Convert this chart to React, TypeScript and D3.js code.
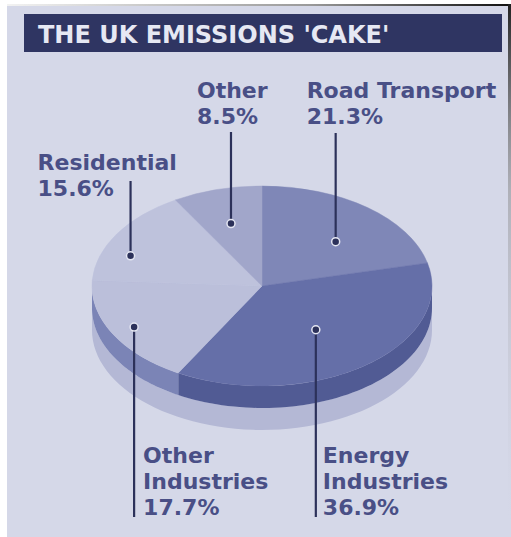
import React from "react";
import * as d3 from "d3";

// ---- data ----
const categories = ["Road Transport", "Energy Industries", "Other Industries", "Residential", "Other"];
const values = [21.3, 36.9, 17.7, 15.6, 8.5];
const labelLines = [["Road Transport"], ["Energy", "Industries"], ["Other", "Industries"], ["Residential"], ["Other"]];
const title = "THE UK EMISSIONS 'CAKE'";

// ---- styles / layout ----
const W = 511, H = 537;
const faceColors = ["#7f87b7", "#656fa8", "#bbbfda", "#bec2dc", "#a1a6ca"];
const sideColors = ["#6a73a8", "#515b94", "#7b84b6", "#9ea3c9", "#8d93bf"];
const labelLayout = [
  { frac: 0.62, off: 6, textX: -29, textY: 98, lineEnd: 133 },
  { frac: 0.54, off: 1, textX: 7, textY: 463, lineEnd: 517 },
  { frac: 0.857, off: 0, textX: 9, textY: 463, lineEnd: 517 },
  { frac: 0.83, off: -10, textX: -93, textY: 170, lineEnd: 181 },
  { frac: 0.65, off: -1, textX: -34, textY: 98, lineEnd: 132 },
];

const cx = 262, cy = 286, rx = 170, ry = 100, sideH = 22, baseH = 22;

function pt(a: number, dy = 0): [number, number] {
  return [cx + rx * Math.sin(a), cy - ry * Math.cos(a) + dy];
}

function bandPath(a0: number, a1: number, dTop: number, dBot: number): string | null {
  const s = Math.max(a0, Math.PI / 2);
  const e = Math.min(a1, (3 * Math.PI) / 2);
  if (e <= s) return null;
  const n = 60;
  const top: [number, number][] = [];
  const bot: [number, number][] = [];
  for (let i = 0; i <= n; i++) {
    const a = s + ((e - s) * i) / n;
    top.push(pt(a, dTop));
    bot.push(pt(a, dBot));
  }
  const pts = top.concat(bot.reverse());
  return d3.line()(pts) + "Z";
}

export default function App() {
  const pie = d3.pie<number>().sort(null).startAngle(0).endAngle(2 * Math.PI)(values);
  const arc = d3.arc<d3.PieArcDatum<number>>().innerRadius(0).outerRadius(rx);
  const font = "'DejaVu Sans', Verdana, sans-serif";
  const labelColor = "#494f86";
  const lineColor = "#2c315a";
  const base = bandPath(0, 2 * Math.PI, sideH, sideH + baseH);

  return (
    <svg width={W} height={H} style={{ position: "absolute", left: 0, top: 0 }} xmlns="http://www.w3.org/2000/svg">
      <defs>
        <linearGradient id="topline" x1="0" x2="1" y1="0" y2="0">
          <stop offset="0" stopColor="#f2f2f2" />
          <stop offset="0.6" stopColor="#9a9a9a" />
          <stop offset="1" stopColor="#111" />
        </linearGradient>
        <linearGradient id="rightline" x1="0" x2="0" y1="0" y2="1">
          <stop offset="0" stopColor="#222" />
          <stop offset="0.35" stopColor="#888" stopOpacity="0.5" />
          <stop offset="1" stopColor="#d5d8e8" stopOpacity="0" />
        </linearGradient>
      </defs>
      <rect x={0} y={0} width={W} height={H} fill="#ffffff" />
      <rect x={7} y={6} width={W - 7} height={H - 6} fill="#d5d8e8" />
      <rect x={7} y={4} width={W - 7} height={2} fill="url(#topline)" />
      <rect x={508} y={4} width={3} height={H - 4} fill="url(#rightline)" />

      {/* title bar */}
      <rect x={24} y={14} width={478} height={38} fill="#2f3562" />
      <text x={38} y={43} fontFamily={font} fontWeight="bold" fontSize={24} fill="#e6e8f3">{title}</text>

      {/* base plate */}
      {base && <path d={base} fill="#b4b8d5" />}
      {/* sides */}
      {pie.map((p, i) => {
        const d = bandPath(p.startAngle, p.endAngle, 0, sideH);
        return d ? <path key={"s" + i} d={d} fill={sideColors[i]} /> : null;
      })}
      {/* top faces */}
      <g transform={`translate(${cx},${cy}) scale(1,${ry / rx})`}>
        {pie.map((p, i) => (
          <path key={"f" + i} d={arc(p) || ""} fill={faceColors[i]} stroke={faceColors[i]} strokeWidth={0.6} />
        ))}
      </g>

      {/* labels */}
      {pie.map((p, i) => {
        const L = labelLayout[i];
        const a = (p.startAngle + p.endAngle) / 2 + (L.off * Math.PI) / 180;
        const x = cx + rx * L.frac * Math.sin(a);
        const y = cy - ry * L.frac * Math.cos(a);
        const lines = [...labelLines[i], `${values[i].toFixed(1)}%`];
        return (
          <g key={"l" + i}>
            <line x1={x} x2={x} y1={y} y2={L.lineEnd} stroke={lineColor} strokeWidth={2.2} />
            <circle cx={x} cy={y} r={4} fill={lineColor} stroke="#e4e6f2" strokeWidth={1.5} />
            <text x={x + L.textX} y={L.textY} fontFamily={font} fontWeight="bold" fontSize={22} fill={labelColor}>
              {lines.map((t, j) => (
                <tspan key={j} x={x + L.textX} dy={j === 0 ? 0 : 26}>{t}</tspan>
              ))}
            </text>
          </g>
        );
      })}
      <text x={-100} y={-100} style={{ display: "none" }}>{categories.join(",")}</text>
    </svg>
  );
}
